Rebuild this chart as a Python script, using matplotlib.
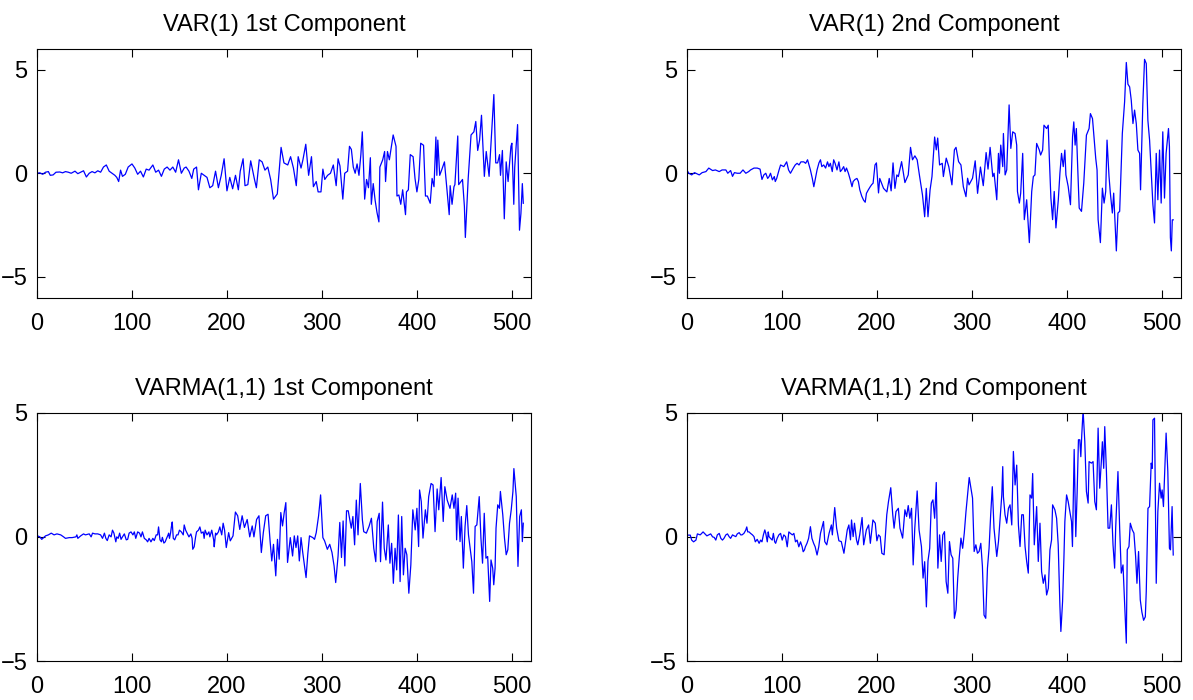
import matplotlib
matplotlib.use("Agg")
import matplotlib.pyplot as plt
import numpy as np

# VAR(1) 1st component (sample index, value)
var1_t = [0, 3, 6, 9, 12, 14, 17, 20, 24, 27, 30, 33, 36, 40, 43, 46, 49, 52, 55, 58,
          61, 64, 67, 70, 73, 76, 79, 82, 84, 86, 88, 90, 93, 96, 100, 103, 106, 109, 112, 115,
          118, 122, 125, 128, 131, 134, 137, 140, 143, 146, 149, 152, 155, 157, 160, 163, 165, 168, 170, 173,
          176, 179, 182, 185, 188, 191, 194, 197, 200, 203, 206, 209, 212, 214, 217, 219, 222, 225, 229, 231,
          234, 237, 240, 243, 246, 249, 253, 257, 260, 264, 267, 270, 273, 275, 278, 280, 283, 286, 289, 291,
          294, 296, 299, 301, 303, 306, 309, 312, 315, 317, 319, 322, 324, 327, 329, 331, 333, 335, 337, 339,
          341, 342.5, 345, 347, 349, 351, 352, 354, 356, 358, 360, 361, 364, 366, 367, 369, 371, 375, 378, 379,
          381, 383, 385, 388, 389, 391, 393, 396, 398, 400, 402, 404, 407, 409, 411, 414, 416, 418, 420, 421,
          422, 424, 426, 429, 434, 435, 437, 439, 440, 443, 444, 448, 450, 451, 454, 457, 460, 462, 464, 466,
          468, 471, 473, 476, 477, 481, 483, 485, 487, 488, 490, 492, 494, 496, 499, 500, 502, 503, 506, 508,
          509.5, 511, 512]
var1_v = [0.0, 0.02, -0.05, 0.05, 0.08, -0.1, -0.08, 0.05, 0.06, 0.02, 0.08, 0.05, 0.0, 0.1, -0.02, 0.05, 0.12, -0.18, 0.0, 0.08,
          0.02, 0.12, 0.05, 0.3, 0.4, 0.1, 0.0, -0.1, -0.2, -0.4, 0.15, -0.15, -0.05, 0.3, 0.45, 0.25, -0.05, 0.1, -0.18, 0.2,
          0.15, 0.4, 0.05, 0.15, -0.15, 0.2, 0.3, 0.15, 0.3, 0.05, 0.65, 0.0, 0.25, 0.3, 0.1, -0.25, 0.2, 0.3, -0.8, 0.0,
          -0.1, -0.2, -0.7, -0.6, 0.1, -0.7, -0.1, 0.7, -0.85, -0.2, -0.75, -0.1, -0.8, 0.1, 0.7, -0.6, -0.55, 0.6, -0.3, -0.7,
          0.65, 0.55, 0.15, 0.3, -0.3, -1.25, -1.0, 1.25, 0.5, 0.4, 0.8, 0.25, -0.6, 0.8, 0.25, 0.65, 1.4, -0.1, 0.8, -0.65,
          -0.4, -0.9, -0.9, 0.2, -0.3, -0.1, 0.0, 0.4, -0.6, 0.7, 0.35, -1.25, 0.0, 0.1, 1.3, 1.15, 0.3, 0.0, 0.45, -0.1,
          0.9, 2.0, -1.25, -0.3, -0.7, 0.75, -1.5, -0.5, -1.3, -1.9, -2.35, 0.3, 0.65, 1.05, -0.4, 1.05, 0.65, 1.85, 1.3, -1.1,
          -1.05, -1.5, -0.8, -2.0, -0.9, -0.8, 0.9, 0.8, -0.25, -0.9, -0.3, 1.45, 1.35, -1.1, -1.1, -1.45, -0.25, -0.65, 1.75, -0.1,
          1.6, -0.1, 0.15, 0.55, -2.0, -0.6, -1.5, -0.65, -0.55, 1.8, -0.55, -0.3, -1.6, -3.1, -0.25, 1.85, 2.0, 2.5, 1.1, 1.6,
          2.8, -0.15, 1.05, -0.15, 0.65, 3.8, 0.5, 0.5, 0.9, -0.1, 1.1, -2.2, 0.55, -0.4, 1.3, 1.45, -1.5, 0.3, 2.35, -2.75,
          -1.95, -0.5, -1.45]

# VAR(1) 2nd component
var2_t = [0, 2, 5, 8, 13, 16, 20, 23, 27, 30, 34, 37, 41, 43, 46, 48, 50, 53, 56, 59,
          62, 65, 67, 70.6, 74, 77, 79, 81, 83, 85, 86.5, 88, 90, 92, 93, 94.5, 97, 98.6, 102, 105,
          107, 109, 112, 114, 116, 118, 120, 123, 125, 127, 128, 130, 132, 133.6, 135, 137, 139, 140.6, 142, 144,
          146, 148, 149.5, 151, 153, 154.5, 156, 158, 160, 161.5, 163, 165, 166.5, 168, 170, 172, 173.8, 175, 177, 179,
          180.5, 182, 184, 186, 187.7, 189, 191, 193, 194.5, 196, 198, 199.5, 201.7, 203, 207, 210.5, 213, 215, 217, 219,
          221, 222.6, 226, 229.5, 233, 235.4, 237.5, 240, 242.4, 245, 248, 250.3, 252, 253.8, 256, 258, 260.8, 262.5, 264, 266,
          268.8, 270, 273, 275.7, 279, 281.6, 283.3, 286, 288.5, 291, 293.8, 295.5, 297, 300.7, 303.5, 306, 309, 312, 315, 317,
          319.2, 322, 323.4, 326.2, 328, 329, 330.4, 332.5, 333.2, 335, 336.7, 339.2, 341, 343, 345.5, 347.2, 348, 350, 351.4, 353.5,
          355.2, 357.7, 360.5, 363, 364.7, 366.4, 368.2, 371, 372.4, 374.5, 375.9, 378.7, 380.4, 381.5, 383.2, 385, 386.7, 388.5, 391, 392.7,
          394.4, 396.2, 397.9, 399, 401.4, 403.8, 406, 407.3, 408.7, 410, 411.2, 413, 415.4, 417.8, 420.6, 423.4, 424.8, 427, 428.3, 430.4,
          431.8, 432.9, 435.3, 437.4, 439.2, 440.9, 442.3, 444.4, 445.8, 447.9, 449.3, 452.1, 453.8, 455.6, 458.4, 460.8, 462.6, 464.3, 466.1, 467.8,
          469.6, 471.3, 473.1, 474.8, 476.6, 477.6, 480, 481.8, 483.6, 485.3, 487.1, 488.8, 490.6, 492.3, 494.1, 495.8, 497.6, 499.3, 501, 502.8,
          504.5, 507, 508, 509, 510, 511, 512]
var2_v = [0.15, 0.0, -0.08, 0.03, -0.08, 0.03, 0.08, 0.25, 0.13, 0.16, 0.08, 0.16, 0.16, 0.0, 0.13, -0.15, 0.03, 0.0, 0.0, 0.16,
          0.0, 0.08, 0.16, 0.25, 0.25, 0.2, -0.3, -0.08, 0.0, -0.25, -0.16, 0.0, -0.32, -0.16, -0.4, -0.25, 0.16, 0.4, 0.32, 0.55,
          0.16, 0.0, 0.25, 0.4, 0.48, 0.4, 0.55, 0.55, 0.48, 0.65, 0.48, 0.16, -0.25, -0.65, -0.32, 0.16, 0.5, 0.65, 0.32, 0.4,
          0.25, 0.55, 0.32, 0.48, 0.08, 0.65, 0.48, 0.16, 0.55, 0.08, 0.16, 0.32, 0.08, 0.25, 0.0, -0.32, -0.65, -0.4, -0.3, -0.25,
          -0.4, -0.8, -1.1, -1.3, -1.4, -0.97, -0.8, -0.65, -0.55, -0.48, 0.4, 0.5, -0.95, -0.25, -0.73, -0.9, -0.25, -0.85, 0.5, -0.73,
          -0.08, -0.16, 0.56, -0.45, -0.08, 1.25, 0.65, 0.84, 0.65, -0.16, -1.05, -2.1, -0.73, -2.1, -0.8, -0.16, 1.75, 1.13, 1.7, 0.4,
          0.48, -0.16, 0.73, 0.32, -0.56, 1.13, 1.25, 0.56, 0.4, -0.65, -1.13, -0.24, -0.56, -0.24, 0.6, -0.97, 0.3, -0.6, 1.0, 0.2,
          1.25, -0.16, 0.0, -1.28, 0.96, 0.0, 1.36, 0.32, 1.92, -0.08, 0.16, 3.3, 1.2, 2.0, 1.92, 1.36, -0.88, -1.44, -0.96, 0.96,
          -2.24, -1.28, -3.35, -0.88, -0.16, -0.08, 1.44, 1.12, 0.88, 1.12, 2.32, 2.16, 2.32, 0.8, -1.2, -2.24, -0.88, -2.64, -1.28, 0.0,
          0.96, 0.32, 1.12, -0.08, -0.64, -1.52, 1.76, 2.48, 1.36, 2.16, 0.56, -1.68, -1.84, -0.48, 1.84, 2.16, 2.88, 2.64, 1.92, 0.72,
          0.16, -2.24, -3.35, -0.72, -1.44, -0.88, 1.6, -0.16, -0.96, -1.92, -0.96, -3.75, -1.92, -1.84, 1.92, 3.45, 5.35, 4.3, 4.17, 3.53,
          2.4, 3.05, 2.4, 1.12, 0.96, -0.8, 3.37, 5.5, 5.3, 2.56, 1.6, 0.08, -1.52, -2.4, 0.96, -1.28, 1.12, -1.44, 2.0, -1.2,
          0.96, 2.16, 1.28, -3.1, -3.75, -2.25, -2.25]

# VARMA(1,1) 1st component
varma1_t = [0, 3, 5, 9, 12, 15, 18, 21, 25, 28, 30, 34, 37, 41, 42, 43, 46, 49, 51, 55,
            57, 58.5, 61, 64, 67, 69, 71, 72.5, 74, 76, 78, 79.5, 81, 83, 84, 85.5, 87, 88.5, 90, 92,
            94, 95.5, 97, 99, 101, 102.5, 104, 106, 108, 109.5, 111, 113, 115, 116.5, 118, 120, 122, 123.5, 125.5, 127,
            128, 129.5, 131, 132, 133.6, 135, 136, 138, 138.6, 139.5, 140.6, 141.5, 142.4, 143.5, 145, 147, 148.5, 150, 152, 154,
            155, 156.5, 158, 160, 162, 163.3, 164, 165.5, 167, 168, 170, 171.5, 173, 175, 176, 177, 179, 181, 182, 184,
            186, 186.6, 188, 189, 191, 192.5, 194.5, 196, 197.5, 199.3, 201.8, 203.5, 206.4, 208.9, 211.3, 213.5, 216, 218.4, 221.3, 224,
            226.6, 228.4, 231.2, 233.7, 236.2, 238.3, 240.8, 243.3, 245.4, 247.2, 249, 251.4, 253.2, 255, 256.7, 258.5, 260.3, 262, 263.8, 266.7,
            269.1, 270.9, 272.7, 274.5, 276.2, 278, 279.8, 282.3, 283.3, 285.1, 286.9, 290.4, 292.2, 294, 296.5, 298.6, 301, 302.8, 305.7, 308.2,
            310.6, 312.8, 314.5, 317, 318.8, 320.6, 322.3, 324.1, 325.9, 327.7, 329.1, 330.9, 332.6, 334.4, 336.2, 338, 340.4, 342.6, 344, 346.8,
            349.6, 352.1, 354.6, 356.7, 358.2, 360.3, 361.7, 363.8, 365.6, 367.4, 369.9, 371.6, 373.4, 375.2, 377, 378.7, 380.5, 382.3, 384, 385.8,
            387.6, 389.4, 391.5, 393.6, 395.7, 398.2, 400, 401.8, 402.8, 404.6, 406.4, 408.9, 410.6, 412.4, 414.9, 417, 419.1, 421.3, 423, 425.5,
            427.7, 429.4, 431.9, 434.8, 437.2, 439, 440.8, 441.8, 443.3, 445.4, 446.8, 448.9, 450.7, 452.5, 454.3, 456, 457.8, 459.6, 461.3, 463.1,
            465.6, 467.4, 469.1, 470.9, 472.7, 474.5, 476.6, 478, 479.8, 480.9, 482.3, 483.3, 485.1, 486.9, 487.9, 490.4, 492.2, 494, 495.7, 497.5,
            499.3, 501.1, 502.1, 504.6, 506.4, 508.2, 510, 511, 512]
varma1_v = [0.05, 0.0, -0.1, 0.04, 0.08, 0.15, 0.08, 0.12, 0.08, 0.0, -0.06, -0.03, -0.03, 0.0, 0.08, -0.06, 0.04, 0.12, 0.08, 0.12,
            0.0, 0.15, 0.12, 0.12, 0.08, -0.06, 0.15, -0.06, -0.15, 0.08, 0.0, 0.27, 0.15, -0.2, 0.0, -0.06, 0.15, -0.1, 0.0, 0.12,
            -0.12, -0.1, 0.15, 0.2, 0.08, 0.2, -0.06, 0.2, 0.15, 0.0, 0.2, -0.06, -0.12, -0.2, -0.06, -0.2, -0.06, -0.15, 0.08, 0.08,
            0.4, -0.12, -0.2, -0.02, -0.25, -0.2, -0.1, 0.08, 0.15, -0.06, 0.15, 0.4, 0.6, -0.06, -0.12, 0.08, 0.08, 0.27, 0.2, 0.08,
            0.48, 0.27, 0.15, 0.0, 0.12, -0.06, -0.5, -0.4, 0.0, 0.2, 0.27, 0.4, 0.15, 0.2, -0.06, 0.27, 0.08, 0.2, 0.0, 0.27,
            -0.12, -0.4, 0.15, 0.08, 0.2, 0.4, 0.08, 0.55, 0.27, -0.43, 0.17, -0.16, 0.04, 1.0, 0.85, 0.3, 0.85, 0.38, 0.7, 0.0,
            0.44, 0.0, 0.7, 0.85, -0.63, 0.17, 0.85, 0.91, -0.16, -0.97, -0.3, -1.57, -0.1, -0.9, 0.98, 0.44, 0.98, 1.38, -1.03, -0.03,
            -0.77, 0.04, -0.43, 0.04, -0.97, -0.03, -0.63, -1.37, -1.64, -0.7, 0.04, -0.03, -0.1, 0.17, 0.85, 1.69, -0.03, -0.16, -0.5, -0.3,
            -0.63, -1.17, -1.84, -0.77, 0.58, -0.83, 0.64, -1.17, 1.05, 1.05, 0.75, 0.35, 0.82, -0.32, 1.48, 0.08, 2.15, 0.68, 0.21, 0.15,
            0.42, 0.75, -0.46, -1.0, 0.62, 0.95, -1.0, 1.4, -0.46, -0.93, 0.48, -1.06, -0.26, -1.87, -0.46, -1.33, 0.88, -1.8, 0.82, -1.53,
            -0.46, -0.72, -2.27, -1.13, 1.09, 0.28, 1.15, -0.39, 1.89, 1.42, -0.05, 1.09, 0.55, 1.62, 2.15, 2.09, 0.21, 1.93, 1.09, 2.39,
            0.62, 2.02, 1.48, 1.15, 1.69, 1.15, 1.76, -0.12, 1.56, -0.19, 0.82, -1.26, 0.42, 1.26, 0.08, -0.46, -1.0, -2.27, 0.42, 0.48,
            1.62, -0.05, -1.06, 0.95, -0.86, -0.79, -2.6, -0.93, -1.26, -1.93, -1.26, 0.35, 1.29, 1.15, 1.83, 0.89, -0.05, -0.72, -0.52, 0.55,
            1.09, 1.83, 2.75, 1.62, -1.19, 0.82, 1.09, -0.19, 0.55]

# VARMA(1,1) 2nd component
varma2_t = [0, 3.5, 5, 7, 9.5, 11, 14, 15.5, 17, 19, 21, 23, 25, 27, 28.7, 30.4, 32, 34, 35.7, 37.4,
            39, 41, 42.7, 44.4, 46, 48, 49.8, 51.5, 53, 55, 56.6, 58, 60, 61.9, 63, 64, 65.4, 67, 69, 70.6,
            72, 74, 76, 77.6, 79, 80.5, 82, 83, 84.6, 85.6, 86.4, 88, 89.8, 91, 92.4, 93.4, 95, 96.8, 98.6, 100.3,
            102, 103.8, 105.6, 107.3, 109, 111, 112.6, 114.3, 116, 117.8, 119.6, 121.3, 122.4, 123.7, 124.7, 126.4, 128.1, 130, 131.6, 133.4,
            135, 137, 138.8, 140.6, 143.8, 145.1, 147.2, 149.7, 152.1, 153.1, 155.6, 157.6, 160, 162.5, 165.3, 167, 168.8, 170.5, 172.2, 173.3,
            175, 176.4, 178.5, 179.9, 181.9, 184.4, 186.1, 188.9, 191.3, 193.1, 195.8, 198.3, 200, 201.7, 203.5, 205.2, 207.6, 210.4, 212.2, 214.6,
            216.7, 218.1, 220.1, 222.6, 224.3, 227.1, 229.5, 231.3, 233, 234.7, 236.5, 238.2, 239.9, 242.4, 244.4, 246.9, 248.6, 250.3, 252.1, 253.8,
            255.6, 257.3, 259, 260.8, 262.5, 264.2, 266, 267.7, 269.4, 271.2, 272.9, 274.7, 276.4, 278.1, 279.9, 281.6, 283.3, 285.1, 286.8, 288.5,
            290.3, 292, 293.8, 295.5, 297.2, 299, 300.7, 302.4, 304.2, 305.9, 307.6, 309.4, 311.1, 312.8, 314.6, 316.4, 318.1, 319.8, 321.5, 323.3,
            326.2, 328, 329.7, 331.5, 332.5, 333.2, 334.9, 336.7, 338.5, 340.2, 342, 343.7, 345.5, 347.2, 349, 350.7, 352.5, 354.2, 356, 357.7,
            359.4, 361.2, 363, 364, 365.7, 368.2, 369.9, 371.7, 373.4, 375.2, 377, 378.7, 380.5, 382.2, 383.9, 385, 387.4, 389.2, 390.9, 392.7,
            393.7, 395.5, 396.9, 397.9, 399.7, 401.4, 403.1, 404.9, 405.9, 407.7, 409.4, 410.8, 412.2, 413.6, 414.7, 415.7, 417.1, 418.9, 420.6, 422.4,
            423.4, 425.9, 427.6, 429.4, 431.1, 432.9, 434.6, 436.4, 437.4, 438.8, 439.9, 441.6, 443.4, 445.1, 446.9, 448.6, 450.3, 451.4, 453.8, 455.6,
            457.3, 459.1, 462.6, 463.6, 465.4, 466.8, 468.9, 470.6, 472.4, 473.8, 475.5, 477.3, 479, 480.8, 482.6, 483.6, 485.4, 487.1, 488.8, 489.9,
            490.6, 492.3, 494.1, 495.8, 497.6, 499.3, 500.3, 501.7, 504.5, 506.3, 508, 509.1, 510.8, 512]
varma2_v = [0.07, 0.07, -0.13, -0.2, -0.13, 0.12, 0.08, 0.14, 0.2, 0.12, 0.04, 0.08, 0.12, 0.0, -0.02, -0.13, 0.08, 0.14, -0.06, -0.13,
            -0.06, 0.08, 0.12, 0.01, -0.06, 0.08, 0.04, 0.01, 0.12, 0.17, 0.08, 0.08, 0.14, 0.27, 0.4, 0.2, 0.2, 0.14, 0.08, 0.01,
            -0.2, -0.1, -0.26, -0.13, -0.2, 0.08, 0.28, 0.14, -0.2, 0.2, 0.01, -0.06, -0.13, 0.14, -0.2, -0.26, -0.06, 0.08, 0.14, -0.13,
            0.08, 0.01, -0.4, 0.2, 0.14, 0.08, 0.14, -0.2, -0.13, -0.4, -0.2, -0.4, -0.6, -0.53, -0.4, -0.26, -0.06, 0.41, -0.06, -0.26,
            -0.4, -0.73, -0.4, 0.14, 0.62, -0.19, -0.32, 0.15, 0.48, 0.08, 1.18, 0.35, -0.16, -0.19, -0.66, -0.19, 0.28, 0.48, -0.12, 0.68,
            0.01, 0.55, -0.12, -0.32, 0.08, 0.78, -0.32, 0.28, 0.48, -0.26, 0.68, 0.55, -0.16, 0.08, 0.01, -0.66, -0.72, 0.89, 1.42, 1.98,
            0.89, 0.35, 1.02, 1.15, 0.35, -0.05, 1.09, 0.82, 1.26, 0.75, 1.15, -1.13, 0.35, 1.85, 0.28, -0.39, -1.66, -1.0, -2.82, -0.97,
            -0.46, 1.36, 1.49, 0.75, 2.19, -1.26, 0.08, -0.99, 0.08, 0.21, -1.8, -2.27, -0.19, -0.72, -0.86, -3.28, -2.95, -1.66, -0.79, -0.05,
            -0.46, 0.15, 1.02, 1.69, 2.39, 1.96, 1.56, -0.59, -0.32, -0.66, -0.59, -0.26, -1.19, -3.15, -3.28, -1.26, -0.46, 0.89, 2.02, 0.35,
            -0.79, -0.19, 0.75, 1.69, 2.83, 1.62, 0.89, 0.55, 1.15, 1.29, 0.48, 3.44, 2.09, 2.89, 0.48, -0.39, 0.89, 0.89, -0.39, -0.99,
            -1.46, 1.69, 1.56, 2.55, -0.32, 1.22, -0.99, 0.55, -1.4, -1.87, -1.53, -2.34, -2.07, -0.52, -0.12, 1.29, 1.09, 0.75, -0.32, -2.8,
            -3.81, -2.6, -0.86, 0.62, 1.69, 1.42, 1.02, 0.62, -0.39, 3.52, 0.01, 1.76, 3.91, 3.91, 3.23, 4.11, 5.1, 3.83, 1.83, 1.36,
            3.03, 2.97, 3.03, 1.42, 1.09, 4.38, 1.96, 3.1, 3.83, 2.76, 4.44, 2.7, 0.35, 0.35, 1.29, -0.32, -1.26, 0.35, 2.63, 0.35,
            -1.46, -1.13, -4.28, -0.52, -0.39, 0.55, 0.28, 0.15, -0.79, -1.87, -0.59, -2.54, -3.03, -3.36, -3.22, -2.2, 1.15, 1.22, 2.97, 2.76,
            4.71, 4.78, -1.87, 1.02, 2.16, 1.56, 1.89, 1.22, 4.18, 2.63, -0.46, -0.52, 1.22, -0.73]

titles = ["VAR(1) 1st Component", "VAR(1) 2nd Component",
          "VARMA(1,1) 1st Component", "VARMA(1,1) 2nd Component"]
series = [(var1_t, var1_v), (var2_t, var2_v), (varma1_t, varma1_v), (varma2_t, varma2_v)]
ylims = [(-6, 6), (-6, 6), (-5, 5), (-5, 5)]

plt.rcParams["font.family"] = ["Liberation Sans", "DejaVu Sans"]

fig = plt.figure(figsize=(11.93, 7.0), dpi=100)
positions = [[0.031, 0.575, 0.414, 0.355], [0.5758, 0.575, 0.414, 0.355],
             [0.031, 0.0557, 0.414, 0.3547], [0.5758, 0.0557, 0.414, 0.3547]]

for pos, title, (t, v), yl in zip(positions, titles, series, ylims):
    ax = fig.add_axes(pos)
    ax.plot(t, v, color="#0000FF", linewidth=0.9)
    ax.set_xlim(0, 520)
    ax.set_ylim(*yl)
    ax.set_xticks([0, 100, 200, 300, 400, 500])
    ax.set_yticks([-5, 0, 5])
    ax.tick_params(direction="in", length=6, width=0.8, top=True, right=True,
                   labelsize=17)
    ax.tick_params(axis="x", pad=11)
    ax.tick_params(axis="y", pad=7)
    for s in ax.spines.values():
        s.set_linewidth(0.8)
    ax.set_title(title, fontsize=17, pad=13)

fig.savefig("out.png", dpi=100)
